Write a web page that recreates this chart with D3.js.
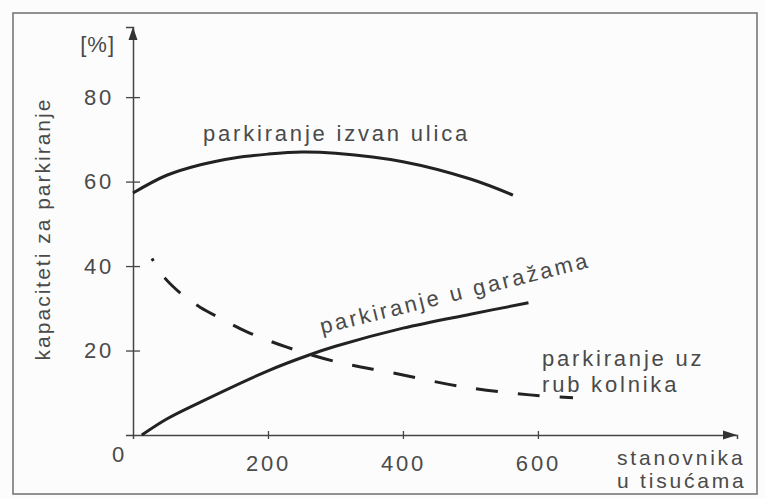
<!DOCTYPE html>
<html>
<head>
<meta charset="utf-8">
<script src="https://cdn.jsdelivr.net/npm/d3@7"></script>
<style>
  body { margin: 0; background: #fff; }
  text { font-family: "Liberation Sans", Arial, sans-serif; fill: #4a4a4a; }
</style>
</head>
<body>
<div id="chart"></div>
<script>
// parkiranje izvan ulica
var offStreetX = [0, 50, 100, 150, 200, 250, 300, 400, 500, 563];
var offStreetY = [57.3, 61.5, 64.0, 65.6, 66.5, 67.0, 66.7, 64.7, 60.6, 56.8];

// parkiranje u garažama
var garageX = [13, 50, 100, 200, 262, 300, 400, 500, 586];
var garageY = [0, 3.8, 7.8, 15.2, 19.0, 21.0, 25.3, 28.6, 31.3];

// parkiranje uz rub kolnika
var curbX = [28, 47, 74, 100, 130, 168, 228, 302, 385, 489, 588, 652];
var curbY = [41.8, 37.2, 33.1, 30.2, 27.6, 24.5, 20.8, 17.3, 14.7, 11.4, 9.5, 8.8];

var xTicks = [200, 400, 600];
var yTicks = [20, 40, 60, 80];

var width = 766;
var height = 498;

var svg = d3.select("#chart")
    .append("svg")
    .attr("width", width)
    .attr("height", height);

svg.append("rect")
    .attr("width", width)
    .attr("height", height)
    .attr("fill", "#fcfcfc");

// scanned frame
svg.append("rect")
    .attr("x", 13)
    .attr("y", 13)
    .attr("width", 744)
    .attr("height", 481)
    .attr("fill", "none")
    .attr("stroke", "#777")
    .attr("stroke-width", 1.6);

var x = d3.scaleLinear().domain([0, 895]).range([133, 737]);
var y = d3.scaleLinear().domain([0, 96.6]).range([435, 27]);

var txt = { size: 22, spacing: 2.8 };

// x axis
var xAxis = svg.append("g")
    .attr("transform", "translate(0," + y(0) + ")")
    .call(d3.axisBottom(x).tickValues(xTicks).tickSize(4).tickPadding(16));

xAxis.select(".domain").attr("stroke", "#444").attr("stroke-width", 1.5);
xAxis.selectAll(".tick line").attr("y1", -4).attr("stroke", "#444").attr("stroke-width", 1.3);
xAxis.selectAll(".tick text")
    .style("font-size", txt.size + "px")
    .style("letter-spacing", txt.spacing + "px")
    .attr("fill", "#4a4a4a");

// y axis
var yAxis = svg.append("g")
    .attr("transform", "translate(" + x(0) + ",0)")
    .call(d3.axisLeft(y).tickValues(yTicks).tickSize(7).tickPadding(12));

yAxis.select(".domain").attr("stroke", "#444").attr("stroke-width", 1.5);
yAxis.selectAll(".tick line").attr("x2", 7).attr("x1", -7).attr("stroke", "#444").attr("stroke-width", 1.3);
yAxis.selectAll(".tick text")
    .style("font-size", txt.size + "px")
    .style("letter-spacing", txt.spacing + "px")
    .attr("fill", "#4a4a4a");

// arrow heads
svg.append("path")
    .attr("d", "M" + x(0) + "," + y(96.6) + " l-4.5,13 l9,0 z")
    .attr("fill", "#333");
svg.append("path")
    .attr("d", "M" + x(895) + "," + y(0) + " l-14,-4.5 l0,9 z")
    .attr("fill", "#333");

// origin label
svg.append("text")
    .attr("x", 118)
    .attr("y", 462)
    .attr("text-anchor", "middle")
    .style("font-size", txt.size + "px")
    .text("0");

svg.append("text")
    .attr("x", 115)
    .attr("y", 52)
    .attr("text-anchor", "end")
    .style("font-size", txt.size + "px")
    .style("letter-spacing", "1px")
    .text("[%]");

svg.append("text")
    .attr("transform", "translate(50,229) rotate(-90)")
    .attr("text-anchor", "middle")
    .style("font-size", "21px")
    .style("letter-spacing", "2px")
    .text("kapaciteti za parkiranje");

var stacked = [["stanovnika", "u tisućama", 617, 465, 23, 21], ["parkiranje uz", "rub kolnika", 542, 366, 26, 22]];
stacked.forEach(function (s) {
    var t = svg.append("text")
        .attr("x", s[2])
        .attr("y", s[3])
        .style("font-size", s[5] + "px")
        .style("letter-spacing", txt.spacing + "px");
    t.append("tspan").attr("x", s[2]).text(s[0]);
    t.append("tspan").attr("x", s[2]).attr("dy", s[4]).text(s[1]);
});

// curves
var line = d3.line()
    .x(function (d) { return x(d[0]); })
    .y(function (d) { return y(d[1]); })
    .curve(d3.curveCatmullRom);

function pairs(xs, ys) {
    return xs.map(function (v, i) { return [v, ys[i]]; });
}

svg.append("path")
    .attr("d", line(pairs(offStreetX, offStreetY)))
    .attr("fill", "none")
    .attr("stroke", "#222")
    .attr("stroke-width", 3);

svg.append("path")
    .attr("d", line(pairs(garageX, garageY)))
    .attr("fill", "none")
    .attr("stroke", "#222")
    .attr("stroke-width", 3);

svg.append("path")
    .attr("d", line(pairs(curbX, curbY)))
    .attr("fill", "none")
    .attr("stroke", "#222")
    .attr("stroke-width", 3)
    .attr("stroke-dasharray", "22 20")
    .attr("stroke-dashoffset", 19);

svg.append("text")
    .attr("x", 203)
    .attr("y", 141)
    .style("font-size", txt.size + "px")
    .style("letter-spacing", txt.spacing + "px")
    .text("parkiranje izvan ulica");

svg.append("text")
    .attr("transform", "translate(322,334) rotate(-14)")
    .style("font-size", txt.size + "px")
    .style("letter-spacing", txt.spacing + "px")
    .text("parkiranje u garažama");
</script>
</body>
</html>
